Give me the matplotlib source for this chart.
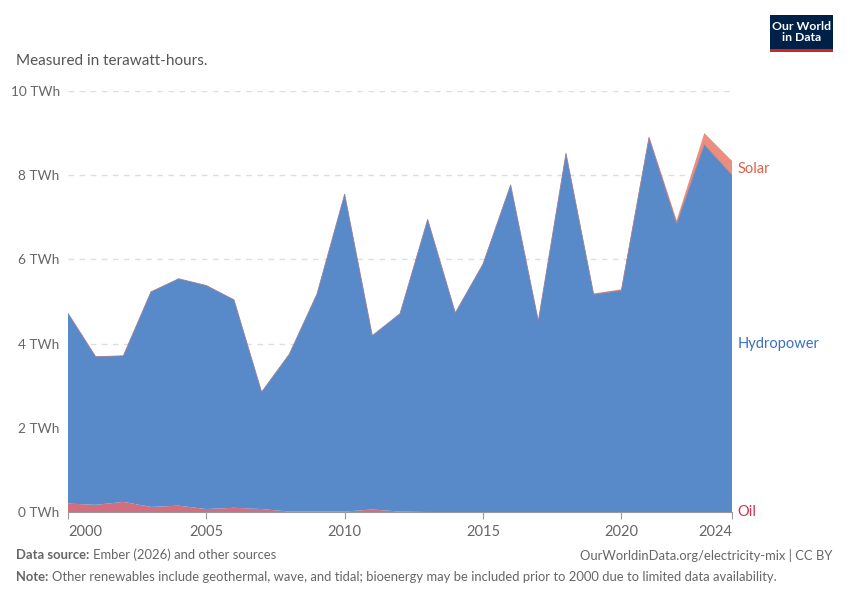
import matplotlib
matplotlib.use("Agg")
import matplotlib.pyplot as plt
from matplotlib.patches import Rectangle

plt.rcParams['font.family'] = ['Lato', 'DejaVu Sans']

years = list(range(2000, 2025))
oil = [0.20, 0.17, 0.24, 0.12, 0.15, 0.07, 0.10, 0.07, 0.01, 0.01,
       0.01, 0.06, 0.01, 0.0, 0.0, 0.0, 0.0, 0.0, 0.0, 0.0,
       0.0, 0.0, 0.0, 0.0, 0.0]
hydro = [4.52, 3.52, 3.47, 5.11, 5.39, 5.31, 4.94, 2.78, 3.74, 5.17,
         7.54, 4.13, 4.70, 6.95, 4.73, 5.89, 7.77, 4.54, 8.52, 5.17,
         5.26, 8.89, 6.84, 8.72, 8.00]
solar = [0.0, 0.0, 0.0, 0.0, 0.0, 0.0, 0.0, 0.0, 0.0, 0.0,
         0.0, 0.0, 0.0, 0.0, 0.0, 0.0, 0.0, 0.0, 0.01, 0.02,
         0.03, 0.04, 0.09, 0.28, 0.34]
series_names = ["Oil", "Hydropower", "Solar"]
xticks = [2000, 2005, 2010, 2015, 2020, 2024]
yticks = [0, 2, 4, 6, 8, 10]

fill_colors = ["#cf6678", "#4f84c6", "#e8887a"]
label_colors = ["#c8384f", "#3a6fc0", "#e0604a"]
grey = "#666666"

fig = plt.figure(figsize=(8.5, 6), dpi=100)
ax = fig.add_axes([68 / 850, 1 - 512 / 600, (732 - 68) / 850, (512 - 91) / 600])

# dashed gridlines, show faintly through the areas
for v in yticks[1:]:
    ax.axhline(v, color="#dddddd", lw=1, ls=(0, (4, 4)), zorder=0)

polys = ax.stackplot(years, oil, hydro, solar, colors=fill_colors, alpha=0.95, zorder=2)
for p in polys:
    p.set_linewidth(0)
# thin outline along the top of the hydro layer
ax.plot(years, [o + h for o, h in zip(oil, hydro)], color="#9a7f98", lw=0.6, zorder=2.5)

ax.set_xlim(2000, 2024)
ax.set_ylim(0, 10)
for s in ["top", "right", "left"]:
    ax.spines[s].set_visible(False)
ax.spines["bottom"].set_color("#999999")
ax.spines["bottom"].set_zorder(3)

ax.set_yticks(yticks)
ax.set_yticklabels([f"{v} TWh" for v in yticks])
ax.tick_params(axis="y", length=0, pad=6, labelsize=9.8, labelcolor=grey)
ax.set_xticks(xticks)
ax.set_xticklabels([str(v) for v in xticks])
ax.tick_params(axis="x", length=5, color="#999999", pad=4, labelsize=10.5, labelcolor=grey)
xl = ax.get_xticklabels()
xl[0].set_horizontalalignment("left")
xl[-1].set_horizontalalignment("right")

# labels at the right end of each layer
ax.text(2024.2, 0, series_names[0], color=label_colors[0], fontsize=10.5, va="center", ha="left")
ax.text(2024.2, 4.0, series_names[1], color=label_colors[1], fontsize=10.5, va="center", ha="left")
ax.text(2024.2, 8.15, series_names[2], color=label_colors[2], fontsize=10.5, va="center", ha="left")

# header
fig.text(16 / 850, 1 - 61 / 600, "Measured in terawatt-hours.", fontsize=11, color="#555555", va="center")

# logo
fig.patches.append(Rectangle((770 / 850, 1 - 49 / 600), 63 / 850, 34 / 600, transform=fig.transFigure,
                             facecolor="#002147", edgecolor="none"))
fig.patches.append(Rectangle((770 / 850, 1 - 52 / 600), 63 / 850, 3 / 600, transform=fig.transFigure,
                             facecolor="#ce261e", edgecolor="none"))
fig.text(801.5 / 850, 1 - 32 / 600, "Our World\nin Data", fontsize=8.8, color="white", ha="center",
         va="center", fontweight="bold", linespacing=0.9)

# footer: bold prefix followed by regular text
renderer = fig.canvas.get_renderer()


def footer_line(y, bold, rest):
    t = fig.text(16 / 850, 1 - y / 600, bold, fontsize=9.35, color=grey, va="center", fontweight="bold")
    w = t.get_window_extent(renderer).width
    fig.text((16 + w + 4) / 850, 1 - y / 600, rest, fontsize=9.35, color=grey, va="center")


footer_line(555, "Data source:", "Ember (2026) and other sources")
footer_line(577, "Note:", "Other renewables include geothermal, wave, and tidal; bioenergy may be "
                          "included prior to 2000 due to limited data availability.")
fig.text(832 / 850, 1 - 555 / 600, "OurWorldinData.org/electricity-mix | CC BY", fontsize=9.35,
         color=grey, va="center", ha="right")

fig.savefig("out.png", dpi=100)
